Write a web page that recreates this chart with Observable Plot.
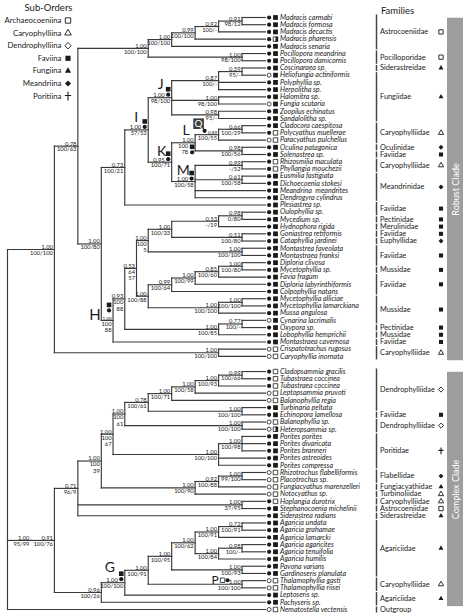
<!DOCTYPE html>
<html><head><meta charset="utf-8">
<script src="https://cdn.jsdelivr.net/npm/d3@7"></script>
<script src="https://cdn.jsdelivr.net/npm/@observablehq/plot@0.6"></script>
<style>
html,body{margin:0;padding:0;background:#fff;}
#chart svg{display:block;}
</style></head><body><div id="chart"></div>
<script>
// ================= DATA =================
const taxa = [
 "Madracis carmabi","Madracis formosa","Madracis decactis","Madracis pharensis","Madracis senaria",
 "Pocillopora meandrina","Pocillopora damicornis","Coscinaraea sp.","Heliofungia actiniformis","Polyphyllia sp.",
 "Herpolitha sp.","Halomitra sp.","Fungia scutaria","Zoopilus echinatus","Sandalolitha sp.",
 "Cladocora caespitosa","Polycyathus muellerae","Paracyathus pulchellus","Oculina patagonica","Solenastrea sp.",
 "Rhizosmilia maculata","Phyllangia mouchezii","Eusmilia fastigiata","Dichoecoenia stokesi","Meandrina  meandrites",
 "Dendrogyra cylindrus","Plesiastrea sp.","Oulophyllia sp.","Mycedium sp.","Hydnophora rigida",
 "Goniastrea retiformis","Cataphyllia jardinei","Montastrea faveolata","Montastraea franksi","Diploria clivosa",
 "Mycetophyllia sp.","Favia fragum","Diploria labyrinthiformis","Colpophyllia natans","Mycetophyllia alliciae",
 "Mycetophyllia lamarckiana","Mussa angulosa","Cynarina lacrimalis","Oxypora sp.","Lobophyllia hemprichii",
 "Montastraea cavernosa","Crispatotrachus rugosus","Caryophyllia inornata","Cladopsammia gracilis","Tubastraea coccinea",
 "Tubastraea coccinea","Leptopsammia pruvoti","Balanophyllia regia","Turbinaria peltata","Echinopora lamellosa",
 "Balanophyllia sp.","Heteropsammia sp.","Porites porites","Porites divaricata","Porites branneri",
 "Porites astreoides","Porites compressa","Rhizotrochus flabelliformis","Placotrochus sp.","Fungiacyathus marenzelleri",
 "Notocyathus sp.","Hoplangia durotrix","Stephanocoenia michelinii","Siderastrea radians","Agaricia undata",
 "Agaricia grahamae","Agaricia lamarcki","Agaricia agaricites","Agaricia tenuifolia","Agaricia humilis",
 "Pavona varians","Gardinoseris planulata","Thalamophyllia gasti","Thalamophyllia riisei","Leptoseris sp.",
 "Pachyseris sp.","Nematostella vectensis"
];
// per-taxon markers
const tipCircle = Array.from([
 "●●●●●●●●○●","●●○●●●●○●●","●●●●●●●●●●","●●●●●●●●●●","●●○●●●○○●●",
 "●○○●●○○●●●","●●○○○○●●●●","●●●●●●●○○●","●○"].join(""));
const tipSquare = Array.from([
 "■■■◨■■■■■■","■■■■■■□□■■","□□■■■■■■■■","■■■■■■■■■■","■■■■■■□□□□",
 "□□□■■□◨■■■","■■□□□□□■■■","■■■■■■■□□■","■□"].join(""));

// topology (leaves = taxon index, internal nodes named)
const nwPocMad = "(((((0,1)mad4,2)mad3,3)mad2,4)mad,(5,6)poc)pm";
const nwI = "((((7,8)cs,9,10)j1,(11,12)fu1,(13,14)fu2)j,((((15,16)cc,17)q,(18,19)oc)l,((20,21)rp,(22,23)ed,24,25)m)k)i";
const nwH2 = "(((((27,28)om2,29)om,(30,31)gc)h3a,(32,33)mo)h3,(((((34,35)dp3,36)dp2,37)dp1,38)dp,((39,40)mu1,41)mu)h4)h2";
const nwRobust = "((" + nwPocMad + ",((" + nwI + ",26)r3,((" + nwH2 + ",((42,43)lo1,44)lo)h1,45)h)r2)r1,(46,47)car2)rob";
const nwC4 = "((((((((48,49)d1,50)d2,51)d3,52)d4,(53,54)te)c6,(55,56)bh)c5,((57,58,59)por1,60,61)por)c4";
const nwC1 = "((" + nwC4 + ",(((62,63)f1,64)f2,65)f3)c3,(66,67)st,68)c1";
const nwC2 = "(((((((69,70)ag0,71)ag1,((72,73)ag5,74)ag2)ag3,(75,76)pg)ag4,(77,78)p)g1,79)g,80)c2";
const newick = "((" + nwRobust + ",(" + nwC1 + "," + nwC2 + ")cpx)in,81)root";

// internal nodes: column (cladogram depth), posterior probability, bootstrap
const nodeIds = ["root","in","rob","r1","pm","mad","mad2","mad3","mad4","poc",
 "r2","r3","i","j","j1","cs","fu1","fu2","k","l","q","cc","oc","m","rp","ed",
 "h","h1","h2","h3","h3a","om","om2","gc","mo","h4","dp","dp1","dp2","dp3","mu","mu1","lo","lo1","car2",
 "cpx","c1","c3","c4","c5","c6","d4","d3","d2","d1","te","bh","por","por1","f3","f2","f1","st",
 "c2","g","g1","ag4","ag3","ag1","ag0","ag2","ag5","pg","p"];
const nodeCols = [0,1,2,3,6,7,8,9,10,10,
 4,5,6,7,9,10,9,9,7,8,9,10,10,8,10,10,
 4.5,5,5.5,6,7,9,10,10,10,6,7,8,9,10,9,10,9,10,9,
 2,3,4,4.5,5,6,7,8,9,10,10,10,9,10,8,9,10,10,
 4,5,6,7,8,9,10,9,10,10,10];
const nodePP = ["","1.00","1.00","0.78","1.00","1.00","0.99","0.92","0.91","1.00",
 "1.00","0.73","1.00","1.00","0.87","0.59","1.00","0.98","0.95","1.00","0.89","0.66","0.98","1.00","0.99","0.61",
 "1.00","0.93","0.53","1.00","1.00","0.53","0.98","0.51","1.00","1.00","0.99","1.00","0.85","1.00","1.00","1.00","1.00","0.77","1.00",
 "0.91","0.71","1.00","1.00","1.00","0.78","1.00","1.00","1.00","0.99","1.00","1.00","1.00","1.00","1.00","0.92","1.00","1.00",
 "0.96","1.00","1.00","1.00","1.00","1.00","0.72","1.00","0.98","1.00","1.00"];
const nodeBS = ["","95/99","100/100","100/63","100/100","100/100","100/100","100/-","98/12","98/100",
 "100/80","100/21","57/53","98/100","100/-","95/-","98/100","95/-","100/71","100\n78","100/55","100/29","100/56","100/58","-/52","100/58",
 "100\n88","100\n88","64\n57","100\n5","100/33","-/19","0/80","100/80","100/100","100/88","100/64","100/99","100/60","100/80","100/100","100/100","100/85","100/-","100/100",
 "100/76","96/9","100\n39","100\n67","100\n61","100/61","100/71","100/58","100/93","100/66","100/100","100/100","100/100","100/98","100/90","100/88","99/100","37/95",
 "100/26","100/100","100/91","100/95","100/62","100/91","100/91","100/84","100/-","100/93","100/100"];
const markIds = ["i","j","k","l","m","q","h","g","p"];
const markLetters = ["I","J","K","L","M","Q","H","G","P"];

// families column
const famNames = ["Astrocoeniidae","Pocilloporidae","Siderastreidae","Fungiidae","Caryophylliidae","Oculinidae","Faviidae","Caryophylliidae","Meandrinidae","Faviidae",
 "Pectinidae","Merulinidae","Faviidae","Euphyllidae","Faviidae","Mussidae","Faviidae","Mussidae","Pectinidae","Mussidae",
 "Faviidae","Caryophylliidae","Dendrophylliidae","Faviidae","Dendrophylliidae","Poritidae","Flabellidae","Fungiacyathidae","Turbinoliidae","Caryophylliidae",
 "Astrocoeniidae","Siderastreidae","Agariciidae","Caryophylliidae","Agariciidae","Outgroup"];
const famFrom = [0,5,7,8,15,18,19,20,22,26,28,29,30,31,32,35,36,39,43,44,45,46,48,54,55,57,62,64,65,66,67,68,69,77,79,81];
const famTo   = [4,6,7,14,17,18,19,21,25,27,28,29,30,31,34,35,38,42,43,44,45,47,53,54,56,61,63,64,65,66,67,68,76,78,80,81];
const famSymbols = ["□","□","▲","▲","△","◆","■","△","◆","■","■","■","■","◆","■","■","■","■","■","■",
 "■","△","◇","■","◇","+","◆","▲","△","△","□","▲","▲","△","▲",""];

const subOrders = ["Archaeocoeniina","Caryophylliina","Dendrophylliina","Faviina","Fungiina","Meandriina","Poritiina"];
const subOrderSymbols = ["□","△","◇","■","▲","◆","+"];

const cladeNames = ["Robust Clade","Complex Clade"];
const cladeFrom = [0,48];
const cladeTo = [47,80];

// ================= LAYOUT =================
const X0 = 7, X1 = 265, LEAFCOL = 11, Y0 = 17, Y1 = 609, GAP = 1.1, YMAX = 82.1;
const kx = (X1 - X0) / LEAFCOL, ky = (Y1 - Y0) / YMAX;
const ux = px => (px - X0) / kx, uy = py => (py - Y0) / ky;
const pos = i => i + (i >= 48 ? GAP : 0);

function parseNewick(s) {
  let i = 0;
  function node() {
    const n = {};
    if (s[i] === "(") {
      i++; n.children = [node()];
      while (s[i] === ",") { i++; n.children.push(node()); }
      i++;
    }
    let name = "";
    while (i < s.length && !",()".includes(s[i])) name += s[i++];
    n.name = name;
    return n;
  }
  return node();
}
const col = new Map(nodeIds.map((d, i) => [d, nodeCols[i]]));
const ppOf = new Map(nodeIds.map((d, i) => [d, nodePP[i]]));
const bsOf = new Map(nodeIds.map((d, i) => [d, nodeBS[i]]));
const root = d3.hierarchy(parseNewick(newick));
root.eachAfter(n => {
  if (!n.children) { n.idx = +n.data.name; n.px = LEAFCOL; n.py = pos(n.idx); }
  else { n.px = col.get(n.data.name); n.py = (n.children[0].py + n.children[n.children.length - 1].py) / 2; }
});
const segs = [];
root.each(n => {
  if (n.parent) segs.push({x1: n.parent.px, x2: n.px, y1: n.py, y2: n.py});
  if (n.children) segs.push({x1: n.px, x2: n.px, y1: n.children[0].py, y2: n.children[n.children.length - 1].py});
});
segs.push({x1: ux(0), x2: root.px, y1: root.py, y2: root.py});

const markOf = new Map(markIds.map((d, i) => [d, markLetters[i]]));
// marker style offsets in px (letter, filled square, filled dot, label shifts)
const mstyle = {
  I: {L: [-12, -12], S: [-3.5, -8.5], D: [-3.5, -3], pp: -7, bs: -1.5},
  J: {L: [-11, -13], S: [-3.5, -8.5], D: [-3.5, -3], pp: -7, bs: -1.5},
  K: {L: [-10, -11], S: [-3.5, -8.5], D: [-3.5, -3], pp: -7, bs: -1.5},
  M: {L: [-12, -11], S: [-3.5, -8.5], D: [-3.5, -3], pp: -7, bs: -1.5},
  G: {L: [-15, -15], S: [-3.5, -9], D: [-3.5, -3.5], pp: -7, bs: -1.5},
  L: {L: [-9, -12], S: [-3, 4], D: [-3, 9.5], pp: -1.5, bs: -7},
  H: {L: [-18, -5], S: [-4, -15.5], D: [-4, -10], pp: -1.5, bs: -1.5, small: 4.6},
  Q: {B: [-20, -11], D: [-14, -3.8], pp: -1.5, bs: -1.5, small: 5},
  P: {L: [-27, -4], O: [-19.5, -4], D: [-14.5, -4], pp: -1.5, bs: -1.5}
};
const at = (n, o) => ({x: n.px + o[0] / kx, y: n.py + o[1] / ky});

const internal = root.descendants().filter(n => n.children && n.parent);
const ppNormal = [], ppSmall = [], bsItems = [];
const mLetters = [], mSquares = [], mOpenSq = [], mDots = [], mBoxes = [];
for (const n of internal) {
  const id = n.data.name, m = markOf.get(id), st = m ? mstyle[m] : {pp: -1.5, bs: -1.5};
  const pp = {x: n.px + st.pp / kx, y: n.py, t: ppOf.get(id)};
  (st.small ? ppSmall : ppNormal).push(pp);
  bsItems.push({x: n.px + st.bs / kx, y: n.py, t: bsOf.get(id)});
  if (m) {
    if (st.L) mLetters.push({...at(n, st.L), t: m, fs: m === "H" ? 15 : m === "P" ? 12 : 14});
    if (st.S) mSquares.push(at(n, st.S));
    if (st.O) mOpenSq.push(at(n, st.O));
    if (st.D) mDots.push(at(n, st.D));
    if (st.B) mBoxes.push({...at(n, st.B), t: m});
  }
}

const leaves = root.leaves();
const families = famNames.map((name, i) => ({name, from: famFrom[i], to: famTo[i], s: famSymbols[i],
  y: (pos(famFrom[i]) + pos(famTo[i])) / 2}));
const clades = cladeNames.map((name, i) => ({name, y1: pos(cladeFrom[i]) + 0.1, y2: pos(cladeTo[i]) + 0.6}));

// symbols
const plusLong = {draw(ctx, size) { const r = Math.sqrt(size / Math.PI);
  ctx.moveTo(0, -r * 1.35); ctx.lineTo(0, r * 1.35); ctx.moveTo(-r, -r * 0.2); ctx.lineTo(r, -r * 0.2); }};
const halfSquare = {draw(ctx, size) { const w = Math.sqrt(size);
  ctx.moveTo(0, -w / 2); ctx.lineTo(w / 2, -w / 2); ctx.lineTo(w / 2, w / 2); ctx.lineTo(0, w / 2); ctx.closePath(); }};
const INK = "#1a1a1a";
const symSpec = {
  "□": {symbol: "square", fill: "white", stroke: INK, sw: 0.9, k: 1.05},
  "△": {symbol: "triangle", fill: "white", stroke: INK, sw: 0.9, k: 0.85},
  "◇": {symbol: "diamond2", fill: "white", stroke: INK, sw: 0.9, k: 1.0},
  "■": {symbol: "square", fill: INK, stroke: "none", sw: 0, k: 1.0},
  "▲": {symbol: "triangle", fill: INK, stroke: "none", sw: 0, k: 0.8},
  "◆": {symbol: "diamond2", fill: INK, stroke: "none", sw: 0, k: 0.95},
  "+": {symbol: plusLong, fill: "none", stroke: INK, sw: 1.1, k: 1.1}
};
function symbolMarks(items, r) {
  return Object.keys(symSpec).map(k => {
    const sp = symSpec[k];
    return Plot.dot(items.filter(d => d.s === k), {x: "x", y: "y", r: r * sp.k, symbol: sp.symbol,
      fill: sp.fill, stroke: sp.stroke, strokeWidth: sp.sw});
  });
}
const famX = ux(376), famTextX = ux(379.5), famSymX = ux(440.5);
const legendItems = subOrders.map((name, i) => ({name, s: subOrderSymbols[i], x: ux(67.5), y: uy(20 + 12.6 * i)}));

const FONT = "Lato, 'Open Sans', 'DejaVu Sans', sans-serif";
const chart = Plot.plot({
  width: 464, height: 614, margin: 0,
  x: {domain: [0, LEAFCOL], range: [X0, X1], axis: null},
  y: {domain: [0, YMAX], range: [Y0, Y1], axis: null},
  style: {fontFamily: FONT, background: "white", color: INK},
  marks: [
    // clade bands
    Plot.rect(clades, {x1: ux(447), x2: ux(463), y1: "y1", y2: "y2", fill: "#9d9d9d"}),
    Plot.text(clades, {x: ux(455.5), y: d => (d.y1 + d.y2) / 2, text: "name", rotate: -90, fill: "white", fontSize: 9}),
    // tree
    Plot.link(segs, {x1: "x1", y1: "y1", x2: "x2", y2: "y2", stroke: "#3a3a3a", strokeWidth: 1.15, strokeLinecap: "square"}),
    Plot.text(ppNormal, {x: "x", y: "y", text: "t", textAnchor: "end", lineAnchor: "bottom", dy: -0.6, fontSize: 5.8}),
    Plot.text(ppSmall, {x: "x", y: "y", text: "t", textAnchor: "end", lineAnchor: "bottom", dy: -0.6, fontSize: 4.6}),
    Plot.text(bsItems, {x: "x", y: "y", text: "t", textAnchor: "end", lineAnchor: "top", dy: 0.8, fontSize: 5.8, lineHeight: 1.1}),
    // node markers
    Plot.text(mLetters.filter(d => d.fs === 14), {x: "x", y: "y", text: "t", fontSize: 14}),
    Plot.text(mLetters.filter(d => d.fs === 15), {x: "x", y: "y", text: "t", fontSize: 15}),
    Plot.text(mLetters.filter(d => d.fs === 12), {x: "x", y: "y", text: "t", fontSize: 12}),
    Plot.dot(mSquares, {x: "x", y: "y", symbol: "square", r: 2.6, fill: INK}),
    Plot.dot(mOpenSq, {x: "x", y: "y", symbol: "square", r: 2.5, fill: "white", stroke: INK, strokeWidth: 0.8}),
    Plot.dot(mDots, {x: "x", y: "y", r: 2.1, fill: INK}),
    Plot.dot(mBoxes, {x: "x", y: "y", symbol: "square", r: 6, fill: "#3d3d3d"}),
    Plot.text(mBoxes, {x: "x", y: "y", text: "t", fill: "white", fontSize: 10}),
    // tips
    Plot.dot(leaves.filter(n => tipCircle[n.idx] === "●"), {x: "px", y: "py", dx: 3.6, r: 2.1, fill: INK}),
    Plot.dot(leaves.filter(n => tipCircle[n.idx] === "○"), {x: "px", y: "py", dx: 3.6, r: 2.0, fill: "white", stroke: INK, strokeWidth: 0.8}),
    Plot.dot(leaves.filter(n => tipSquare[n.idx] === "■"), {x: "px", y: "py", dx: 10, r: 2.7, symbol: "square", fill: INK}),
    Plot.dot(leaves.filter(n => tipSquare[n.idx] !== "■"), {x: "px", y: "py", dx: 10, r: 2.55, symbol: "square", fill: "white", stroke: INK, strokeWidth: 0.8}),
    Plot.dot(leaves.filter(n => tipSquare[n.idx] === "◨"), {x: "px", y: "py", dx: 10, r: 2.7, symbol: halfSquare, fill: INK}),
    Plot.text(leaves, {x: "px", y: "py", dx: 14.5, text: n => taxa[n.idx], textAnchor: "start", fontStyle: "italic", fontSize: 7.1}),
    // families
    Plot.link(families, {x1: famX, x2: famX, y1: d => pos(d.from) - 0.42, y2: d => pos(d.to) + 0.42, stroke: "#444", strokeWidth: 1.5}),
    Plot.text(families, {x: famTextX, y: "y", text: "name", textAnchor: "start", fontSize: 7.35}),
    ...symbolMarks(families.map(d => ({x: famSymX, y: d.y, s: d.s})), 2.3),
    Plot.text(["Families"], {x: ux(397), y: uy(10), text: d => d, fontSize: 9.5}),
    // sub-order legend
    Plot.text(["Sub-Orders"], {x: ux(48), y: uy(7), text: d => d, fontSize: 9.5}),
    Plot.text(legendItems, {x: ux(61), y: "y", text: "name", textAnchor: "end", fontSize: 7.8}),
    ...symbolMarks(legendItems, 2.9)
  ]
});
document.getElementById("chart").appendChild(chart);
</script>
</body></html>
